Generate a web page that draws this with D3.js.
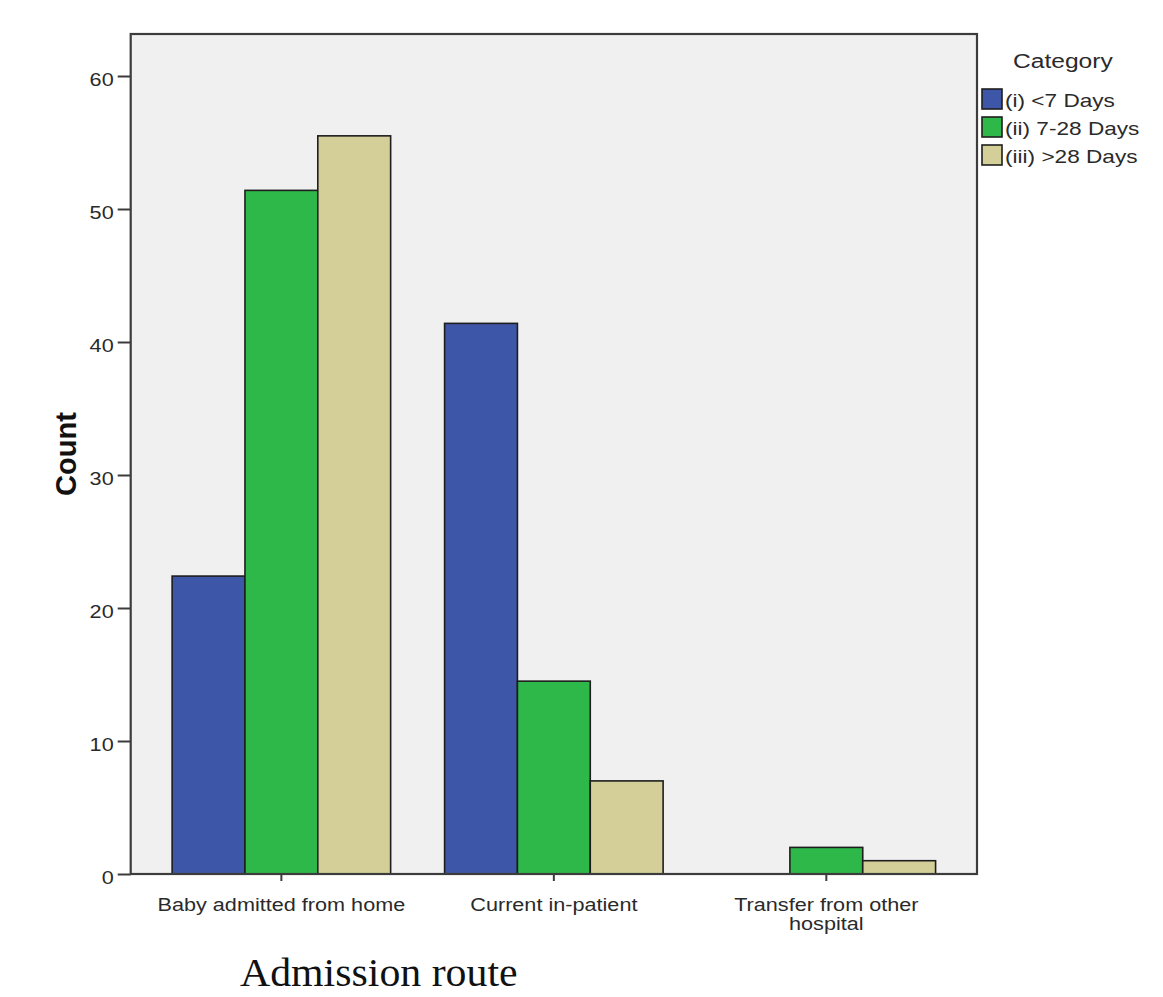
<!DOCTYPE html>
<html>
<head>
<meta charset="utf-8">
<script src="https://cdn.jsdelivr.net/npm/d3@7"></script>
<style>
  html, body { margin: 0; padding: 0; background: #ffffff; }
  svg { display: block; }
</style>
</head>
<body>
<svg id="chart" width="1163" height="997"></svg>
<script>
// ---- Data ----
const categories = ["Baby admitted from home", "Current in-patient", "Transfer from other hospital"];
const categoryLines = [["Baby admitted from home"], ["Current in-patient"], ["Transfer from other", "hospital"]];
const seriesNames = ["(i) <7 Days", "(ii) 7-28 Days", "(iii) >28 Days"];
const lessThan7 = [22.4, 41.4, 0];
const from7to28 = [51.4, 14.5, 2];
const over28 = [55.5, 7, 1];
const yTicks = [0, 10, 20, 30, 40, 50, 60];
const seriesColors = ["#3d56a8", "#2fb84a", "#d4cf98"];

const seriesValues = [lessThan7, from7to28, over28];

(function () {
// ---- Layout ----
const svg = d3.select("#chart");
const pLeft = 130.7, pRight = 977, pTop = 34, pBottom = 874;
const sans = "Liberation Sans, Arial, sans-serif";
const textColor = "#2a2a2a";

const x = d3.scaleBand().domain(categories).range([pLeft, pRight])
  .paddingInner(0.198).paddingOuter(0.152);
const xs = d3.scaleBand().domain(seriesNames).range([0, x.bandwidth()]).padding(0);
const y = d3.scaleLinear().domain([0, 60]).range([874, 76]);

// plot background
svg.append("rect").attr("x", pLeft).attr("y", pTop)
  .attr("width", pRight - pLeft).attr("height", pBottom - pTop)
  .attr("fill", "#f0f0f0");

// bars
const groups = svg.append("g").selectAll("g").data(categories).join("g")
  .attr("transform", d => `translate(${x(d)},0)`);
groups.each(function(cat, ci) {
  d3.select(this).selectAll("rect")
    .data(seriesNames.map((s, si) => ({ s, si, v: seriesValues[si][ci] })).filter(d => d.v > 0))
    .join("rect")
    .attr("x", d => xs(d.s))
    .attr("y", d => y(d.v))
    .attr("width", xs.bandwidth())
    .attr("height", d => y(0) - y(d.v))
    .attr("fill", d => seriesColors[d.si])
    .attr("stroke", "#1e1e1e")
    .attr("stroke-width", 1.6);
});

// frame
svg.append("rect").attr("x", pLeft).attr("y", pTop)
  .attr("width", pRight - pLeft).attr("height", pBottom - pTop)
  .attr("fill", "none").attr("stroke", "#3c3c3c").attr("stroke-width", 2.2);

// y axis
const yAxis = d3.axisLeft(y).tickValues(yTicks).tickSize(13).tickPadding(4).tickFormat(d3.format("d"));
const gy = svg.append("g").attr("transform", `translate(${pLeft},0)`).call(yAxis);
gy.select(".domain").remove();
gy.selectAll(".tick line").attr("stroke", "#3c3c3c").attr("stroke-width", 2);
gy.selectAll(".tick text")
  .attr("x", null).attr("dy", null)
  .attr("font-family", sans)
  .attr("font-size", 19).attr("fill", textColor)
  .attr("text-anchor", "end")
  .attr("transform", `translate(-17,9) scale(1.14,1)`);

// x axis
const xAxis = d3.axisBottom(x).tickSize(7).tickFormat("");
const gx = svg.append("g").attr("transform", `translate(0,${pBottom})`).call(xAxis);
gx.select(".domain").remove();
gx.selectAll(".tick line").attr("stroke", "#3c3c3c").attr("stroke-width", 2);
gx.selectAll(".tick").each(function(d, i) {
  const t = d3.select(this).append("text")
    .attr("font-family", sans)
    .attr("font-size", 18.5).attr("fill", textColor)
    .attr("text-anchor", "middle")
    .attr("transform", `translate(0,37) scale(1.17,1)`);
  categoryLines[i].forEach((line, li) => {
    t.append("tspan").attr("x", 0).attr("dy", li === 0 ? 0 : 19.5).text(line);
  });
});

// y title
svg.append("text")
  .attr("transform", `translate(76,454) rotate(-90)`)
  .attr("text-anchor", "middle")
  .attr("font-family", sans)
  .attr("font-weight", "bold").attr("font-size", 29).attr("fill", "#111")
  .text("Count");

// x title
svg.append("text")
  .attr("x", 240).attr("y", 986)
  .attr("font-family", "Liberation Serif, Times New Roman, serif")
  .attr("font-size", 41).attr("fill", "#111")
  .attr("transform", "translate(240,0) scale(1.02,1) translate(-240,0)")
  .text("Admission route");

// legend
const legend = svg.append("g");
legend.append("text")
  .attr("transform", `translate(1013,68) scale(1.23,1)`)
  .attr("font-family", sans)
  .attr("font-size", 20).attr("fill", textColor)
  .text("Category");
const items = legend.selectAll("g.item").data(seriesNames).join("g")
  .attr("class", "item")
  .attr("transform", (d, i) => `translate(982,${89 + i * 28})`);
items.append("rect")
  .attr("width", 20).attr("height", 20)
  .attr("fill", (d, i) => seriesColors[i])
  .attr("stroke", "#1e1e1e").attr("stroke-width", 1.6);
items.append("text")
  .attr("transform", `translate(23,18) scale(1.19,1)`)
  .attr("font-family", sans)
  .attr("font-size", 19).attr("fill", textColor)
  .text(d => d);
})();
</script>
</body>
</html>
